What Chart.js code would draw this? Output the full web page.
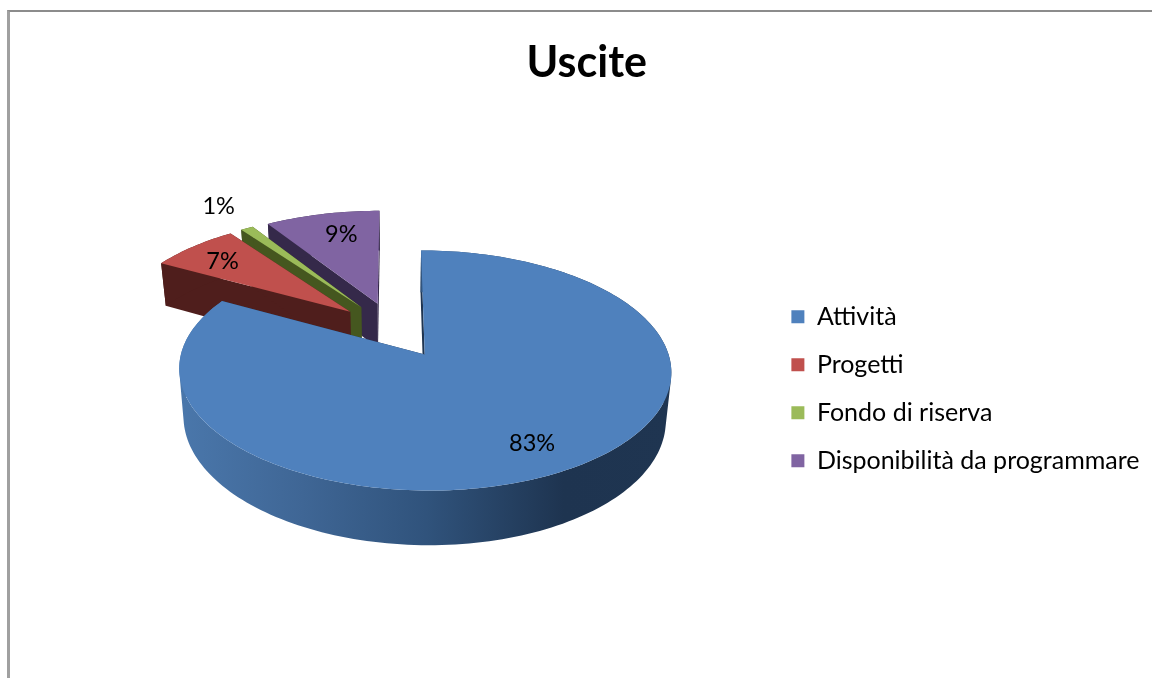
<!DOCTYPE html>
<html lang="it">
<head>
<meta charset="UTF-8">
<title>Uscite</title>
<script src="https://cdn.jsdelivr.net/npm/chart.js"></script>
<style>
    html, body { margin: 0; background: #fff; overflow: hidden; }
    #frame {
        position: absolute; left: 7px; top: 10px; width: 1200px; height: 700px;
        border-left: 3px solid #a0a0a0; border-top: 2px solid #8c8c8c;
    }
    #wrap { position: absolute; left: 0; top: 0; width: 1152px; height: 678px; }
</style>
</head>
<body>
<div id="frame"></div>
<div id="wrap"><canvas id="chart"></canvas></div>
<script>
const categories = ['Attività', 'Progetti', 'Fondo di riserva', 'Disponibilità da programmare'];
const values = [83, 7, 1, 9];
const colors = ['#4f81bd', '#c0504d', '#9bbb59', '#8064a2'];
const wallColors = ['#1f3551', '#4f1e1c', '#45571f', '#35294a'];

// perspective of the tilted pie, all relative to the chart's own arc centre
const explode = 0.25;
const view = { shiftX: -2.5, shiftY: -59, rx: 237, ry: 111.4, k: 0.13, depth: 46, taper: 0.02 };
const labelNudge = [[-2, 2], [-3, 1], [2, -1], [8, 2]];

function project(arc, u, v, z) {
    const s = 1 / (1 + view.k * v);
    return {
        x: arc.x + view.shiftX + view.rx * u * s * (1 - view.taper * z),
        y: arc.y + view.shiftY - view.ry * v * s + view.depth * z * s
    };
}

function slicePoint(arc, angle, radius, z) {
    const mid = (arc.startAngle + arc.endAngle) / 2;
    const u = explode * Math.cos(mid) + radius * Math.cos(angle);
    const v = -(explode * Math.sin(mid) + radius * Math.sin(angle));
    return project(arc, u, v, z);
}

function rimPoints(arc, z) {
    const pts = [];
    const n = Math.ceil((arc.endAngle - arc.startAngle) * 40);
    for (let i = 0; i <= n; i++) {
        pts.push(slicePoint(arc, arc.startAngle + (arc.endAngle - arc.startAngle) * i / n, 1, z));
    }
    return pts;
}

function fillPoly(ctx, pts, fill) {
    ctx.beginPath();
    pts.forEach((p, i) => i ? ctx.lineTo(p.x, p.y) : ctx.moveTo(p.x, p.y));
    ctx.closePath();
    ctx.fillStyle = fill;
    ctx.fill();
}

// rim as quads wound the same way in one path: no seams and no notch at the silhouette
function fillRim(ctx, top, bottom, fill) {
    ctx.beginPath();
    for (let j = 0; j < top.length - 1; j++) {
        const a = top[j], b = top[j + 1], c = bottom[j + 1], d = bottom[j];
        const area = (b.x - a.x) * (d.y - a.y) - (b.y - a.y) * (d.x - a.x);
        const quad = area > 0 ? [a, b, c, d] : [d, c, b, a];
        ctx.moveTo(quad[0].x, quad[0].y);
        ctx.lineTo(quad[1].x, quad[1].y);
        ctx.lineTo(quad[2].x, quad[2].y);
        ctx.lineTo(quad[3].x, quad[3].y);
        ctx.closePath();
    }
    ctx.fillStyle = fill;
    ctx.fill();
}

const pie3d = {
    id: 'pie3d',
    beforeDatasetsDraw(chart) {
        const ctx = chart.ctx;
        const arcs = chart.getDatasetMeta(0).data;

        // back to front: each slice hides part of the wall of the one behind it
        [3, 2, 1, 0].forEach(i => {
            const arc = arcs[i];
            const top = rimPoints(arc, 0);
            const bottom = rimPoints(arc, 1);
            const apexTop = slicePoint(arc, 0, 0, 0);
            const apexBottom = slicePoint(arc, 0, 0, 1);
            let side = wallColors[i];
            if (i === 0) {
                side = ctx.createLinearGradient(180, 0, 672, 0);
                side.addColorStop(0, '#4a77ab');
                side.addColorStop(0.25, '#3f6695');
                side.addColorStop(0.5, '#30537c');
                side.addColorStop(0.78, '#1e3450');
                side.addColorStop(1, '#1f3551');
            }
            fillPoly(ctx, [apexTop, top[0], bottom[0], apexBottom], wallColors[i]);
            fillPoly(ctx, [apexTop, top[top.length - 1], bottom[bottom.length - 1], apexBottom], wallColors[i]);
            fillRim(ctx, top, bottom, side);
            fillPoly(ctx, [apexTop].concat(top), colors[i]);
        });

        // percentage labels
        ctx.fillStyle = '#000';
        ctx.font = '23.5px Lato';
        ctx.textAlign = 'center';
        ctx.textBaseline = 'middle';
        arcs.forEach((arc, i) => {
            const mid = (arc.startAngle + arc.endAngle) / 2;
            const p = slicePoint(arc, mid, values[i] < 2 ? 1.3 : 0.78, 0);
            ctx.fillText(values[i] + '%', p.x + labelNudge[i][0], p.y + labelNudge[i][1]);
        });
        return false;
    }
};

new Chart(document.getElementById('chart'), {
    type: 'pie',
    data: {
        labels: categories,
        datasets: [{ data: values, backgroundColor: colors, borderWidth: 0 }]
    },
    plugins: [pie3d],
    options: {
        responsive: true,
        maintainAspectRatio: false,
        animation: false,
        layout: { padding: { left: 24, right: 2.5 } },
        plugins: {
            title: {
                display: true,
                text: 'Uscite',
                color: '#000',
                font: { family: 'Lato', size: 43, weight: 'bold' },
                padding: { top: 37, bottom: 11 }
            },
            legend: {
                position: 'right',
                fullSize: false,
                labels: {
                    boxWidth: 13,
                    boxHeight: 13,
                    padding: 23,
                    color: '#000',
                    font: { family: 'Lato', size: 25 }
                }
            },
            tooltip: { enabled: false }
        }
    }
});
</script>
</body>
</html>
